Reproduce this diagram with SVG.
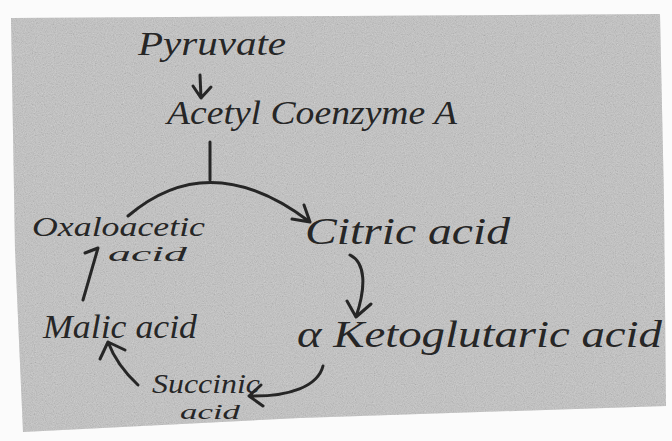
<svg xmlns="http://www.w3.org/2000/svg" width="672" height="441" viewBox="0 0 672 441">
<style>
  .ink { fill: #262626; font-family: "Liberation Serif", "DejaVu Serif", serif; font-style: italic; }
  .line { fill: none; stroke: #262626; stroke-width: 3; stroke-linecap: round; stroke-linejoin: round; }
</style>
<defs>
  <filter id="grain" x="0" y="0" width="100%" height="100%">
    <feTurbulence type="fractalNoise" baseFrequency="0.9" numOctaves="2" seed="4" result="n"/>
    <feColorMatrix in="n" type="saturate" values="0" result="g"/>
    <feComposite in="g" in2="SourceGraphic" operator="in"/>
  </filter>
</defs>
<rect width="672" height="441" fill="#fbfbfb"/>
<g id="paper">
  <polygon points="11,18 660,14 664,200 666,406 300,418 23,432 15,250" fill="#c3c3c3"/>
  <polygon points="11,18 660,14 664,200 666,406 300,418 23,432 15,250" fill="#c3c3c3" filter="url(#grain)" opacity="0.55"/>
</g>
<g id="connectors">
  <path class="line" d="M200,75 L201,98 M193,86 L201,98 L211,87"/>
  <path class="line" d="M210,142 L210,180"/>
  <path class="line" d="M128,216 Q210,146 310,222 M292,219 L310,222 L304,205"/>
  <path class="line" d="M350,255 C366,263 366,287 356,317 M347,301 L356,317 L371,304"/>
  <path class="line" d="M323,366 C318,386 290,397 249,396 M261,385 L249,396 L263,406"/>
  <path class="line" d="M138,385 C124,372 114,358 108,342 M100,359 L108,342 L125,350"/>
  <path class="line" d="M85,253 L98,248 L83,300"/>
</g>
<g id="pyruvate"><text class="ink" x="138" y="55" font-size="34" textLength="148" lengthAdjust="spacingAndGlyphs">Pyruvate</text></g>
<g id="acetylcoa"><text class="ink" x="167" y="124" font-size="34" textLength="290" lengthAdjust="spacingAndGlyphs">Acetyl Coenzyme A</text></g>
<g id="oxaloacetic">
  <text class="ink" x="32" y="236" font-size="27" textLength="173" lengthAdjust="spacingAndGlyphs">Oxaloacetic</text>
  <text class="ink" x="108" y="261" font-size="20" textLength="79" lengthAdjust="spacingAndGlyphs">acid</text>
</g>
<g id="citric"><text class="ink" x="305" y="244" font-size="38" textLength="205" lengthAdjust="spacingAndGlyphs">Citric acid</text></g>
<g id="malic"><text class="ink" x="43" y="338" font-size="34" textLength="154" lengthAdjust="spacingAndGlyphs">Malic acid</text></g>
<g id="ketoglutaric"><text class="ink" x="297" y="347" font-size="38" textLength="365" lengthAdjust="spacingAndGlyphs">α Ketoglutaric acid</text></g>
<g id="succinic">
  <text class="ink" x="152" y="393" font-size="28" textLength="108" lengthAdjust="spacingAndGlyphs">Succinic</text>
  <text class="ink" x="180" y="419" font-size="22" textLength="60" lengthAdjust="spacingAndGlyphs">acid</text>
</g>
</svg>
